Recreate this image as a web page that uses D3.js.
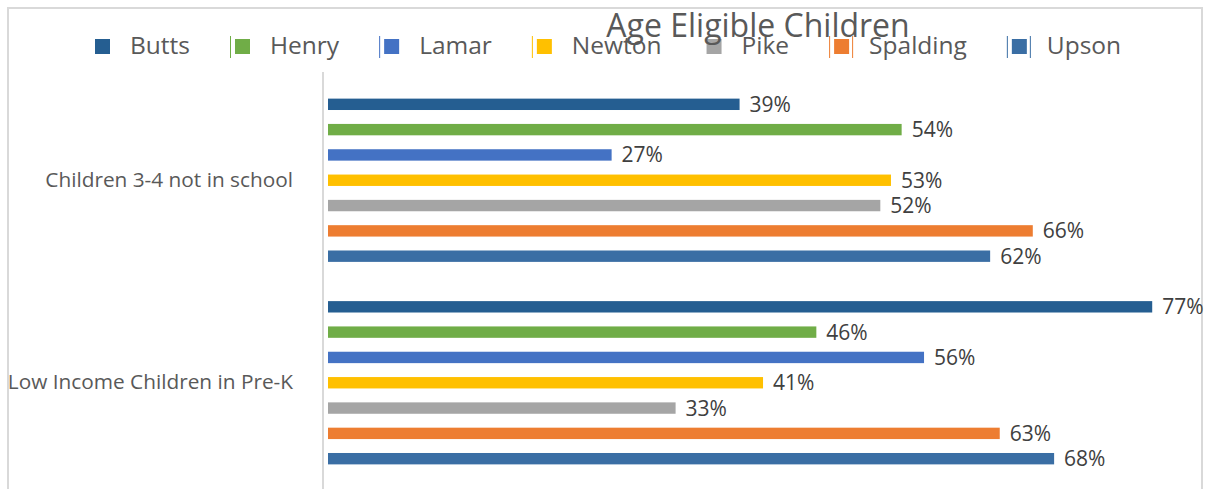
<!DOCTYPE html>
<html>
<head>
<meta charset="utf-8">
<script src="https://cdn.jsdelivr.net/npm/d3@7"></script>
<style>
  body { margin: 0; background: #fff; }
  svg text { font-family: "Open Sans", "Noto Sans", sans-serif; }
</style>
</head>
<body>
<div id="chart"></div>
<script>
// chart data
var categories = ["Children 3-4 not in school", "Low Income Children in Pre-K"];
var seriesNames = ["Butts", "Henry", "Lamar", "Newton", "Pike", "Spalding", "Upson"];
var seriesColors = ["#255e91", "#70ad47", "#4472c4", "#ffc000", "#a5a5a5", "#ed7d31", "#3a6ea4"];
var notInSchool = [0.386, 0.538, 0.266, 0.528, 0.518, 0.661, 0.621];
var lowIncomePreK = [0.773, 0.458, 0.559, 0.408, 0.326, 0.630, 0.681];
var title = "Age Eligible Children";

var width = 1207, height = 489;

var svg = d3.select("#chart")
    .append("svg")
    .attr("width", width)
    .attr("height", height);

// chart frame
svg.append("rect")
    .attr("x", 8)
    .attr("y", 8)
    .attr("width", 1194)
    .attr("height", 500)
    .attr("fill", "none")
    .attr("stroke", "#d9d9d9")
    .attr("stroke-width", 2);

var rows = categories.map(function (c, i) {
    var vals = i == 0 ? notInSchool : lowIncomePreK;
    return { category: c, values: seriesNames.map(function (s, j) { return { series: s, value: vals[j], color: seriesColors[j] }; }) };
});

// scales
var xScale = d3.scaleLinear()
    .domain([0, 0.8])
    .range([328, 1181]);

var y0 = d3.scaleBand()
    .domain(categories)
    .range([79, 484]);

var y1 = d3.scaleBand()
    .domain(seriesNames)
    .range([0, y0.bandwidth()])
    .paddingInner(0.55)
    .paddingOuter(0.775);

// vertical category axis
var yAxis = d3.axisLeft(y0).tickSize(0).tickPadding(30);
var axisG = svg.append("g")
    .attr("class", "y_axis")
    .attr("transform", "translate(323,0)")
    .call(yAxis);
axisG.select(".domain").remove();
axisG.selectAll("text")
    .attr("fill", "#595959")
    .style("font-size", "20.8px")
    .attr("dy", "0.3em");
svg.append("line")
    .attr("x1", 323).attr("x2", 323)
    .attr("y1", 72).attr("y2", 489)
    .attr("stroke", "#d9d9d9")
    .attr("stroke-width", 2);

// bars
var groups = svg.selectAll(".cat")
    .data(rows)
    .enter().append("g")
    .attr("class", "cat")
    .attr("transform", function (d) { return "translate(0," + y0(d.category) + ")"; });

groups.selectAll(".bar")
    .data(function (d) { return d.values; })
    .enter().append("rect")
    .attr("class", "bar")
    .attr("x", xScale(0))
    .attr("y", function (d) { return y1(d.series); })
    .attr("width", function (d) { return xScale(d.value) - xScale(0); })
    .attr("height", y1.bandwidth())
    .attr("fill", function (d) { return d.color; });

groups.selectAll(".label")
    .data(function (d) { return d.values; })
    .enter().append("text")
    .attr("class", "label")
    .attr("x", function (d) { return xScale(d.value) + 10; })
    .attr("y", function (d) { return y1(d.series) + y1.bandwidth() / 2; })
    .attr("dy", "0.36em")
    .attr("fill", "#404040")
    .style("font-size", "21px")
    .text(function (d) { return d3.format(".0%")(d.value); });

// legend (laid out left to right by text width)
var edgeLines = [[], ["l"], ["l"], ["l"], [], ["l", "r"], ["l", "r"]];
var legend = svg.append("g").attr("class", "legend");
var lx = 95;
seriesNames.forEach(function (s, i) {
    var g = legend.append("g").attr("transform", "translate(" + lx + ",0)");
    g.append("rect")
        .attr("x", 0).attr("y", 39)
        .attr("width", 15).attr("height", 15)
        .attr("fill", seriesColors[i]);
    edgeLines[i].forEach(function (side) {
        var ex = side == "l" ? -4.5 : 18.5;
        g.append("line")
            .attr("x1", ex).attr("x2", ex)
            .attr("y1", 36).attr("y2", 58)
            .attr("stroke", seriesColors[i])
            .attr("stroke-width", 1);
    });
    var t = g.append("text")
        .attr("x", 35).attr("y", 54)
        .attr("fill", "#595959")
        .style("font-size", "24.5px")
        .text(s);
    lx += 35 + t.node().getComputedTextLength() + 45;
});

// title
svg.append("text")
    .attr("x", 758)
    .attr("y", 37)
    .attr("text-anchor", "middle")
    .attr("fill", "#595959")
    .style("font-size", "32px")
    .text(title);
</script>
</body>
</html>
